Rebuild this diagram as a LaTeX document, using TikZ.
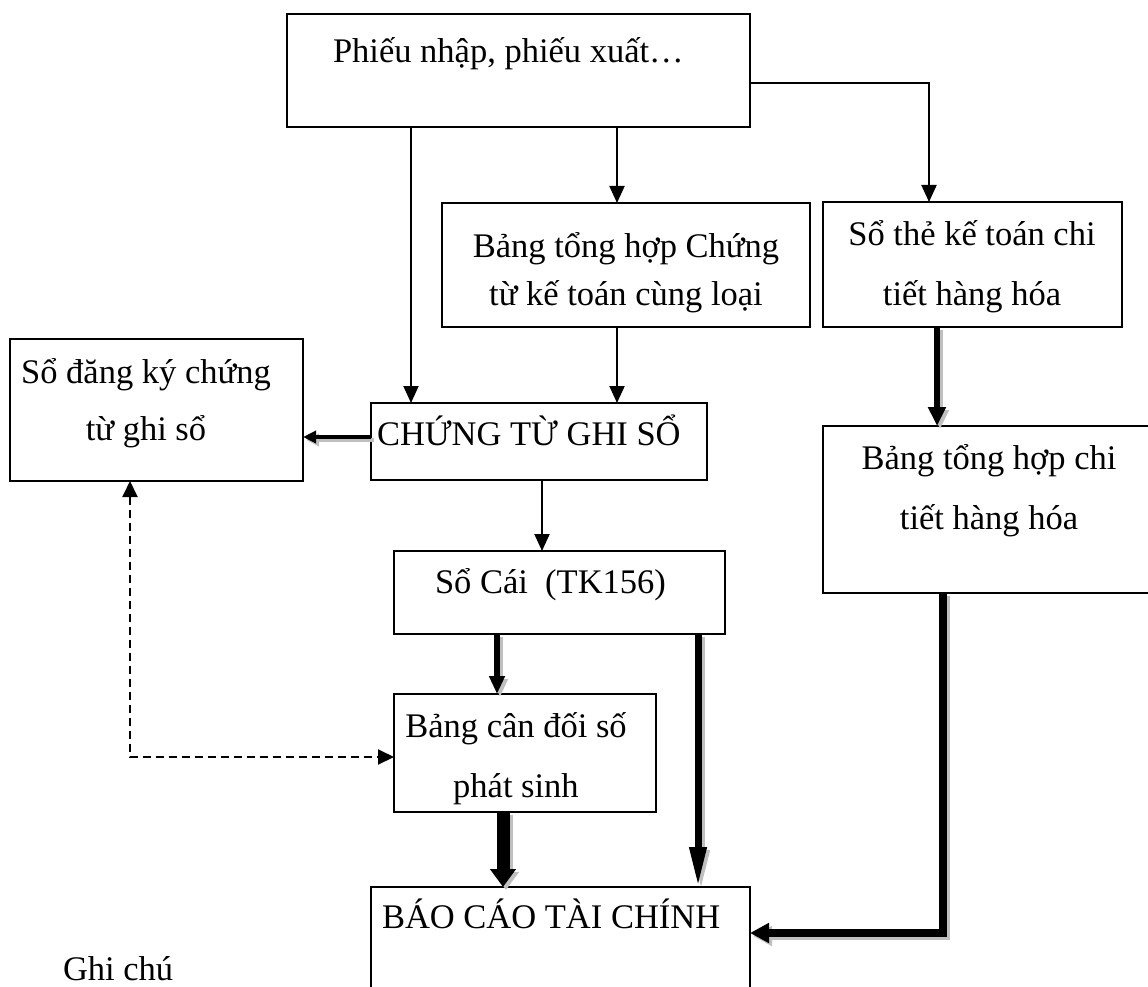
\documentclass[tikz,border=0pt]{standalone}
\usepackage{fontspec}
\setmainfont{Liberation Serif}
\usetikzlibrary{arrows.meta}
\begin{document}
\begin{tikzpicture}[x=1pt,y=-1pt,
  box/.style={draw, line width=2pt, anchor=north west, inner sep=0pt, outer sep=0pt},
  txt/.style={inner sep=0pt, outer sep=0pt, font=\fontsize{34.5}{60}\selectfont},
  thinarr/.style={line width=2pt, -{Triangle[length=17pt,width=15pt]}},
  shadowpath/.style={color=black!25, transform canvas={shift={(3pt,-3pt)}}},
  dashline/.style={line width=2pt, dash pattern=on 8pt off 5pt,
     {Triangle[length=16pt,width=15pt]}-{Triangle[length=16pt,width=15pt]}},
  arrA/.style={line width=4pt, -{Triangle[length=13pt,width=12pt]}},
  arrB/.style={line width=6pt, -{Triangle[length=19pt,width=17pt]}},
  arrC/.style={line width=6pt, -{Triangle[length=18pt,width=15pt]}},
  arrD/.style={line width=7pt, -{Triangle[length=40pt,width=16pt]}},
  arrE/.style={line width=13pt, -{Triangle[length=18pt,width=25pt]}},
  arrF/.style={line width=8pt, line join=miter, -{Triangle[length=19pt,width=19pt]}}
]
\useasboundingbox (0,0) rectangle (1148,987);

% boxes
\node[box, minimum width=463pt, minimum height=113pt] (b1) at (287,14) {};
\node[box, minimum width=368pt, minimum height=124pt] (b2) at (442,203) {};
\node[box, minimum width=299pt, minimum height=125pt] (st) at (823,202) {};
\node[box, minimum width=293pt, minimum height=142pt] (sdk) at (10,339) {};
\node[box, minimum width=336pt, minimum height=77pt] (ctgs) at (371,403) {};
\node[box, minimum width=331pt, minimum height=83pt] (sc) at (394,551) {};
\node[box, minimum width=262pt, minimum height=118pt] (bcd) at (394,694) {};
\node[box, minimum width=379pt, minimum height=150pt] (bc) at (371,887) {};
\node[box, minimum width=345pt, minimum height=167pt] (bt) at (823,426) {};

% texts
\node[txt, anchor=base west] (t1) at (333,63) {Phiếu nhập, phiếu xuất…};
\node[txt, anchor=base, font=\fontsize{34.5}{48}\selectfont] (t2) at (626,257)
  {\begin{tabular}[t]{@{}c@{}}Bảng tổng hợp Chứng\\từ kế toán cùng loại\end{tabular}};
\node[txt, anchor=base] (t3) at (972,245)
  {\begin{tabular}[t]{@{}c@{}}Sổ thẻ kế toán chi\\tiết hàng hóa\end{tabular}};
\node[txt, anchor=base, font=\fontsize{34.5}{57}\selectfont] (t4) at (146,383)
  {\begin{tabular}[t]{@{}c@{}}Sổ đăng ký chứng\\từ ghi sổ\end{tabular}};
\node[txt, anchor=base west] (t5) at (377,445) {CHỨNG TỪ GHI SỔ};
\node[txt, anchor=base west] (t6) at (435,593) {Sổ Cái\ \ (TK156)};
\node[txt, anchor=base] (t7) at (516,737)
  {\begin{tabular}[t]{@{}c@{}}Bảng cân đối số\\phát sinh\end{tabular}};
\node[txt, anchor=base] (t8) at (989,469)
  {\begin{tabular}[t]{@{}c@{}}Bảng tổng hợp chi\\tiết hàng hóa\end{tabular}};
\node[txt, anchor=base west] (t9) at (382,928) {BÁO CÁO TÀI CHÍNH};
\node[txt, anchor=base west] (t10) at (63,980) {Ghi chú};

% helper coordinates
\coordinate (x411) at (411,0);
\coordinate (x617) at (617,0);
\coordinate (x929) at (929,0);
\coordinate (x542) at (542,0);
\coordinate (x937) at (937,0);
\coordinate (x497) at (497,0);
\coordinate (x698) at (698,0);
\coordinate (x503) at (503,0);
\coordinate (x943) at (943,0);
\coordinate (x130) at (130,0);
\coordinate (y83) at (0,83);
\coordinate (y437) at (0,437);
\coordinate (y933) at (0,933);
\coordinate (y757) at (0,757);

% thin connectors
\draw[thinarr] (x411 |- b1.south) -- (x411 |- ctgs.north);
\draw[thinarr] (x617 |- b1.south) -- (x617 |- b2.north);
\draw[thinarr] (b1.east |- y83) -| (x929 |- st.north);
\draw[thinarr] (x617 |- b2.south) -- (x617 |- ctgs.north);
\draw[thinarr] (x542 |- ctgs.south) -- (x542 |- sc.north);

% shadows
\draw[arrA, shadowpath] (ctgs.west |- y437) -- (sdk.east |- y437);
\draw[arrB, shadowpath] (x937 |- st.south) -- (x937 |- bt.north);
\draw[arrC, shadowpath] (x497 |- sc.south) -- (x497 |- bcd.north);
\draw[arrD, shadowpath] (x698 |- sc.south) -- (x698 |- bc.north);
\draw[arrE, shadowpath] (x503 |- bcd.south) -- (x503 |- bc.north);
\draw[arrF, shadowpath] (x943 |- bt.south) -- (x943 |- y933) -- (bc.east |- y933);

% thick connectors
\draw[arrA] (ctgs.west |- y437) -- (sdk.east |- y437);
\draw[arrB] (x937 |- st.south) -- (x937 |- bt.north);
\draw[arrC] (x497 |- sc.south) -- (x497 |- bcd.north);
\draw[arrD] (x698 |- sc.south) -- (x698 |- bc.north);
\draw[arrE] (x503 |- bcd.south) -- (x503 |- bc.north);
\draw[arrF] (x943 |- bt.south) -- (x943 |- y933) -- (bc.east |- y933);

% dashed connector
\draw[dashline] (x130 |- sdk.south) -- (x130 |- y757) -- (bcd.west |- y757);
\end{tikzpicture}
\end{document}
